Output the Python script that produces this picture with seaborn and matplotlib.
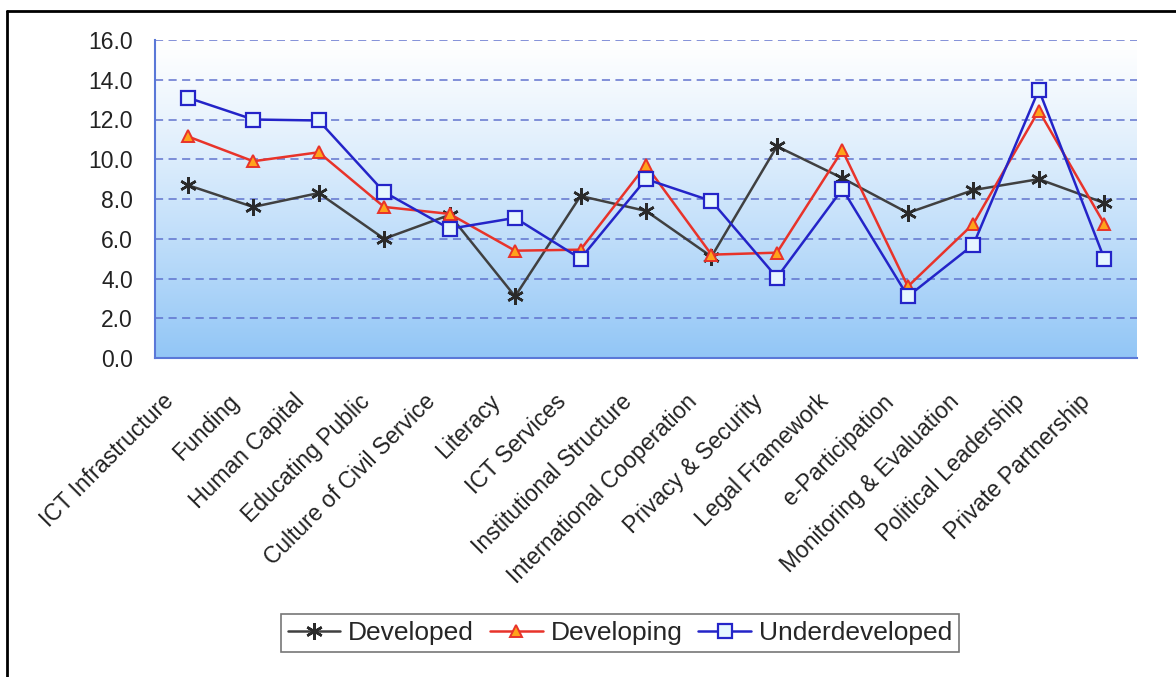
import numpy as np
import pandas as pd
import matplotlib
matplotlib.use("Agg")
import matplotlib.pyplot as plt
import matplotlib.transforms as mtransforms
from matplotlib.lines import Line2D
import seaborn as sns

categories = [
    "ICT Infrastructure", "Funding", "Human Capital", "Educating Public",
    "Culture of Civil Service", "Literacy", "ICT Services",
    "Institutional Structure", "International Cooperation",
    "Privacy & Security", "Legal Framework", "e-Participation",
    "Monitoring & Evaluation", "Political Leadership", "Private Partnership",
]
developed = [8.7, 7.6, 8.3, 6.0, 7.2, 3.1, 8.15, 7.4, 5.1, 10.65, 9.05, 7.3, 8.45, 9.0, 7.8]
developing = [11.15, 9.9, 10.35, 7.6, 7.25, 5.4, 5.45, 9.7, 5.2, 5.3, 10.45, 3.6, 6.75, 12.45, 6.75]
underdeveloped = [13.1, 12.0, 11.95, 8.35, 6.5, 7.05, 5.0, 9.0, 7.9, 4.05, 8.5, 3.1, 5.7, 13.5, 5.0]
y_ticks = [0, 2, 4, 6, 8, 10, 12, 14, 16]

sns.set_theme(style="white")
plt.rcParams["font.family"] = ["Liberation Sans", "DejaVu Sans"]

W, H = 1176, 677
fig = plt.figure(figsize=(W / 100, H / 100), dpi=100)
ax = fig.add_axes([155 / W, 1 - 358 / H, (1137 - 155) / W, (358 - 40) / H])

# vertical gradient background: white at the top, sky blue at the bottom
top = np.array([1.0, 1.0, 1.0])
bot = np.array([0x92, 0xC6, 0xF6]) / 255.0
t = np.linspace(0, 1, 256)[:, None] ** 1.15
grad = (top * (1 - t) + bot * t)[:, None, :]
ax.imshow(grad, extent=[0, 1, 0, 1], transform=ax.transAxes,
          aspect="auto", zorder=0, interpolation="bicubic")

# dashed horizontal grid
for yv in y_ticks[1:]:
    ax.axhline(yv, color="#5A6CCB", lw=1.3, ls=(0, (4.5, 3)), alpha=0.8, zorder=1)

series = [
    ("Developed", developed, dict(color="#404040", marker=(6, 2, 0),
                                  markersize=12, markeredgewidth=1.8,
                                  markeredgecolor="#2A2A2A", linewidth=1.8)),
    ("Developing", developing, dict(color="#E8332A", marker="^",
                                    markersize=9, markerfacecolor="#FFA31A",
                                    markeredgecolor="#E8332A",
                                    markeredgewidth=1.4, linewidth=1.8)),
    ("Underdeveloped", underdeveloped, dict(color="#2424C8", marker="s",
                                            markersize=10,
                                            markerfacecolor="#E6F6FF",
                                            markeredgecolor="#2424C8",
                                            markeredgewidth=1.6, linewidth=1.8)),
]

df = pd.DataFrame({"category": categories})
for name, vals, style in series:
    df[name] = vals
    sns.lineplot(data=df, x="category", y=name, ax=ax, label=name,
                 sort=False, zorder=3, **style)

ax.set_xlim(-0.5, len(categories) - 0.5)
ax.set_ylim(0, 16)
ax.set_yticks(y_ticks)
ax.set_yticklabels([f"{v:.1f}" for v in y_ticks], fontsize=16.5, color="#222222")
ax.set_xlabel("")
ax.set_ylabel("")

# category ticks sit between categories
ax.set_xticks(np.arange(len(categories)))
ax.set_xticks(np.arange(len(categories) + 1) - 0.5, minor=True)
ax.tick_params(axis="x", which="major", length=0, pad=23)
ax.tick_params(axis="x", which="minor", direction="in", length=6,
               color="#5A78D8", width=1.2)
ax.tick_params(axis="y", direction="in", length=6, color="#5A78D8",
               width=1.2, pad=16)
ax.set_xticklabels(categories, rotation=45, ha="right", va="top",
                   rotation_mode="anchor", fontsize=16.5, color="#222222")
offset = mtransforms.ScaledTranslation(-26 / 100, 0, fig.dpi_scale_trans)
for lab in ax.get_xticklabels():
    lab.set_transform(lab.get_transform() + offset)

for side in ["top", "right"]:
    ax.spines[side].set_visible(False)
for side in ["left", "bottom"]:
    ax.spines[side].set_visible(True)
    ax.spines[side].set_color("#5A78D8")
    ax.spines[side].set_linewidth(1.5)

ax.get_legend().remove()
handles, labels = ax.get_legend_handles_labels()
leg = fig.legend(handles, labels, loc="center", ncol=3,
                 bbox_to_anchor=(620 / W, 1 - 633 / H), frameon=True,
                 fancybox=False, edgecolor="#555555", fontsize=19,
                 handlelength=2.0, handletextpad=0.3, columnspacing=0.6,
                 borderpad=0.25, borderaxespad=0.0)
leg.get_frame().set_linewidth(1.2)

# outer frame lines along the top and left edges
fig.add_artist(Line2D([7 / W, 1], [1 - 11 / H, 1 - 11 / H],
                      transform=fig.transFigure, color="black", lw=2))
fig.add_artist(Line2D([7 / W, 7 / W], [0, 1 - 11 / H],
                      transform=fig.transFigure, color="black", lw=2))

fig.savefig("out.png", dpi=100, facecolor="white")
